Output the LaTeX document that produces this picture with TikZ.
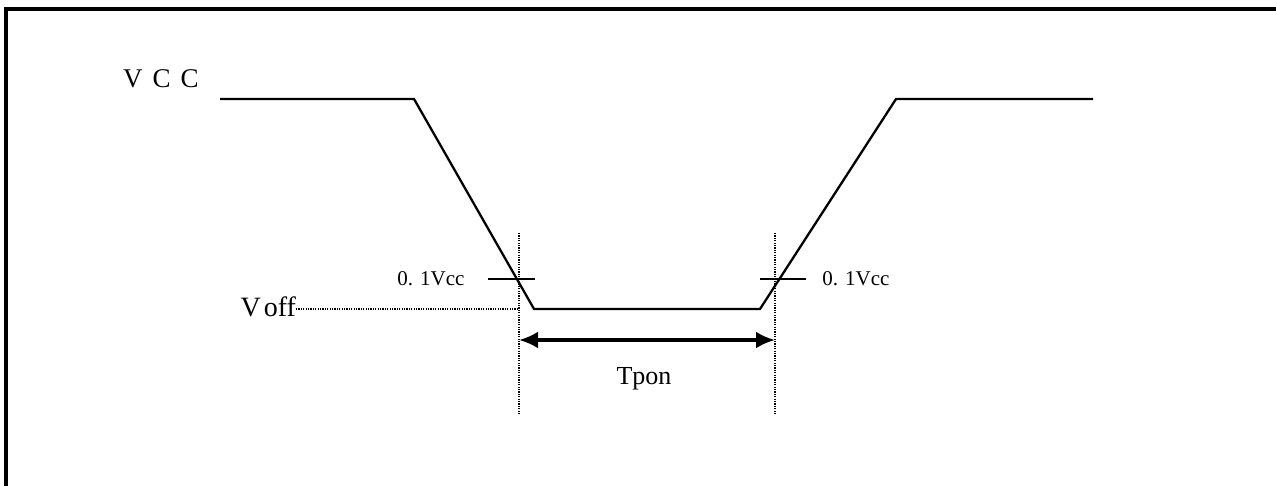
\documentclass[tikz,border=0pt]{standalone}
\usepackage{fontspec}
\setmainfont{Liberation Serif}
\usetikzlibrary{arrows.meta}
\begin{document}
\begin{tikzpicture}[x=1pt,y=-1pt,
  sig/.style={line width=2.3pt, line join=miter},
  dotline/.style={line width=1.4pt, dash pattern=on 1.2pt off 1.2pt},
  frame/.style={line width=3.6pt},
  tick/.style={line width=2.3pt},
  dim/.style={line width=3.4pt, {Latex[length=19pt,width=17pt]}-{Latex[length=19pt,width=17pt]}},
  lbl/.style={inner sep=0pt, outer sep=0pt},
  big/.style={lbl, font=\fontsize{28}{28}\selectfont},
  small/.style={lbl, font=\fontsize{21}{21}\selectfont}]
\useasboundingbox (0,0) rectangle (1276,485);
\draw[frame] (6,486) -- (6,9) -- (1276,9);
% waveform
\coordinate (h1) at (220,99);
\coordinate (f1) at (414,99);
\coordinate (f2) at (534,309);
\coordinate (r1) at (760,309);
\coordinate (r2) at (896,99);
\coordinate (h2) at (1093,99);
\draw[sig] (h1) -- (f1) -- (f2) -- (r1) -- (r2) -- (h2);
% dotted markers
\coordinate (d1t) at (519,233);
\coordinate (d1b) at (519,415);
\coordinate (d2t) at (775,233);
\coordinate (d2b) at (775,415);
\draw[dotline] (d1t) -- (d1b);
\draw[dotline] (d2t) -- (d2b);
% 0.1Vcc ticks
\coordinate (t1a) at (488,279);
\coordinate (t1b) at (535,279);
\coordinate (t2a) at (760,279);
\coordinate (t2b) at (806,279);
\draw[tick] (t1a) -- (t1b);
\draw[tick] (t2a) -- (t2b);
\node[small] (l1) at (431,279) {0.\,\,1Vcc};
\node[small] (l2) at (856,279) {0.\,\,1Vcc};
% labels
\node[big, font=\fontsize{27}{27}\selectfont] (vcc) at (161,79) {V\hspace{10pt}C\hspace{10pt}C};
\node[big, anchor=east] (voff) at (296,307) {V\hspace{3pt}off};
\coordinate (voffend) at (519,309);
\draw[dotline] (voff.east |- voffend) -- (voffend);
% Tpon
\coordinate (a1) at (519,340);
\coordinate (a2) at (775,340);
\draw[dim] (a1) -- (a2);
\node[lbl, font=\fontsize{26}{26}\selectfont] (tpon) at (644,379) {Tpon};
\end{tikzpicture}
\end{document}
